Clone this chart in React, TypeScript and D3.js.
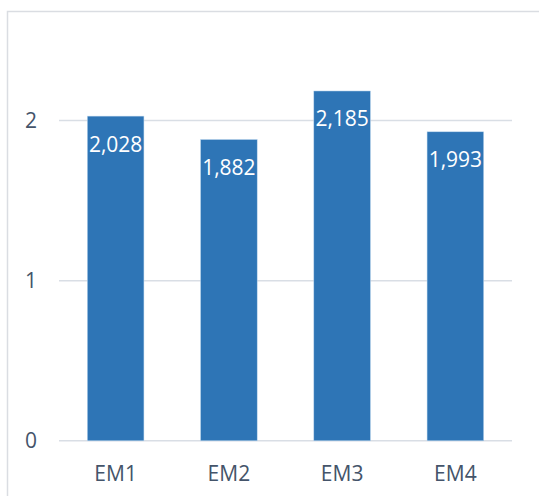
import React from "react";
import * as d3 from "d3";

const categories = ["EM1", "EM2", "EM3", "EM4"];
const values = [2.028, 1.882, 2.185, 1.93];
const valueLabels = ["2,028", "1,882", "2,185", "1,993"];
const yTicks = [0, 1, 2];

export default function App() {
  const W = 539;
  const H = 496;
  const x = d3.scaleBand<string>().domain(categories).range([59, 512]).paddingInner(0.5).paddingOuter(0.25);
  const y = d3.scaleLinear().domain([0, 2]).range([440.8, 120.6]);
  const font = "'Open Sans', 'Noto Sans', sans-serif";
  const textColor = "#44546A";

  return (
    <svg width={W} height={H} style={{ position: "absolute", left: 0, top: 0, background: "#fff" }}>
      <rect x={7.5} y={11.5} width={W + 20} height={H + 20} fill="#fff" stroke="#DADDE2" strokeWidth={1.5} />
      {yTicks.map((t) => (
        <g key={t}>
          <line x1={59} x2={512} y1={y(t)} y2={y(t)} stroke="#D9DEE5" strokeWidth={1.5} />
          <text x={37} y={y(t)} dy="0.36em" textAnchor="end" fontFamily={font} fontSize={21} fill={textColor}>
            {d3.format("d")(t)}
          </text>
        </g>
      ))}
      {categories.map((c, i) => {
        const bx = x(c)!;
        const bw = x.bandwidth();
        const top = y(values[i]);
        return (
          <g key={c}>
            <rect x={bx} y={top} width={bw} height={y(0) - top} fill="#2E75B6" stroke="#BDD7EE" strokeWidth={0.5} />
            <text x={bx + bw / 2} y={top + 35.5} textAnchor="middle" fontFamily={font} fontSize={21} fill="#fff">
              {valueLabels[i]}
            </text>
            <text x={bx + bw / 2} y={481} textAnchor="middle" fontFamily={font} fontSize={21} fill={textColor}>
              {c}
            </text>
          </g>
        );
      })}
    </svg>
  );
}
